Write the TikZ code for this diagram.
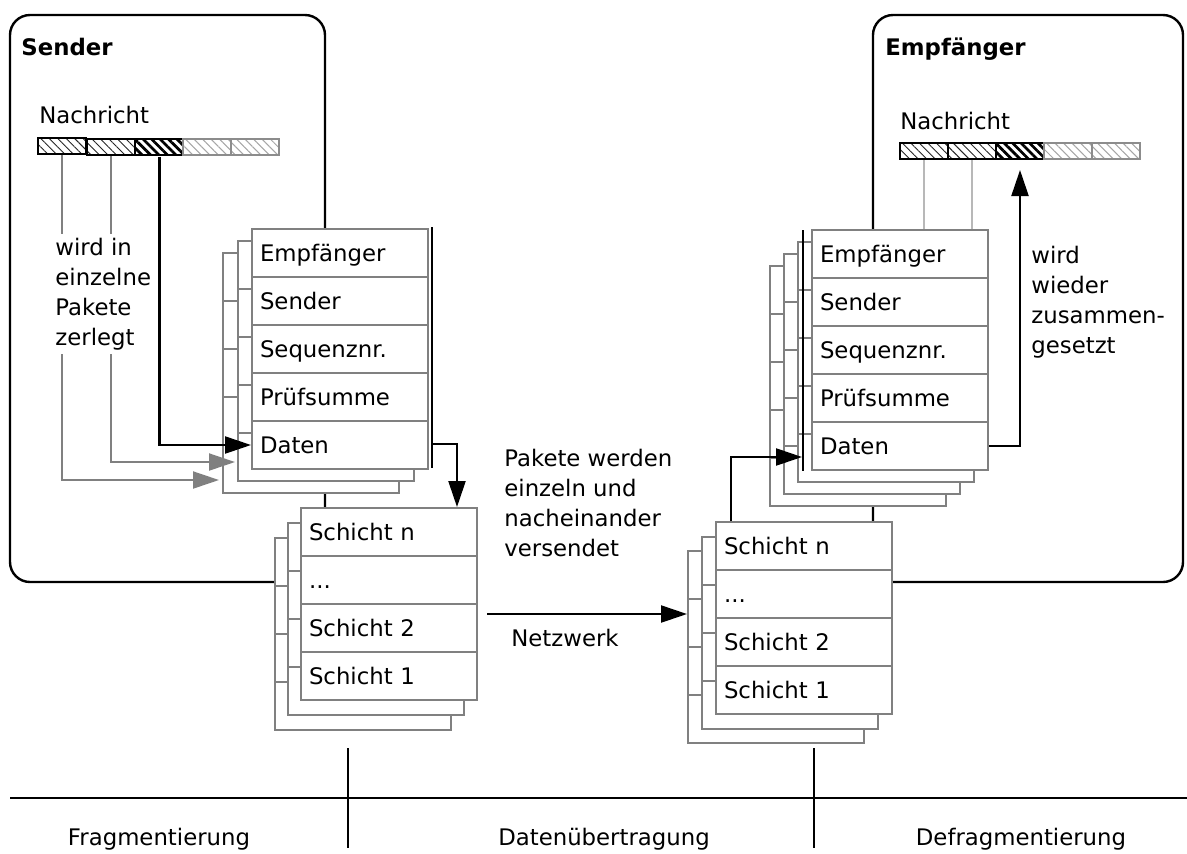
\documentclass[tikz,border=0pt]{standalone}
\usepackage{fontspec}
\setmainfont{DejaVu Sans}
\usetikzlibrary{arrows.meta,patterns.meta}
\definecolor{edge}{gray}{0.5}
\definecolor{pale}{gray}{0.72}
\newcommand{\layerdots}{...}

\tikzset{
  row/.style={draw=edge,fill=white,line width=1pt,anchor=north west,
    text width=80pt,inner xsep=4pt,inner ysep=0pt,minimum height=24pt,
    text height=9pt,text depth=0.5pt,align=left},
  cell/.style={line width=1pt,anchor=north west,inner sep=0pt,
    minimum width=24pt,minimum height=8pt},
  hatch/.style={pattern={Lines[angle=-45,distance=3pt,line width=#1]}},
  lite/.style={cell,draw=black,hatch=0.45pt,pattern color=black!85},
  dark/.style={cell,draw=black,hatch=1.4pt,pattern color=black},
  faint/.style={cell,draw=black!45,hatch=0.5pt,pattern color=black!35},
  note/.style={anchor=north west,inner sep=0pt,align=left},
  link/.style={line width=1.1pt},
  glink/.style={line width=1pt,color=edge},
}

\begin{document}
\begin{tikzpicture}[x=0.5pt,y=-0.5pt,>={Triangle[length=13pt,width=8.5pt]},
  every node/.style={font=\fontsize{11.4}{15}\selectfont}]
\useasboundingbox (0,0) rectangle (1187,853);

% frames
\draw[line width=1.2pt,rounded corners=10pt] (10,15) rectangle (325,582);
\draw[line width=1.2pt,rounded corners=10pt] (873,15) rectangle (1183,582);
\node[anchor=base west,inner sep=0pt,font=\fontsize{11.4}{15}\selectfont\bfseries] (snd) at (21,55) {Sender};
\node[anchor=base west,inner sep=0pt,font=\fontsize{11.4}{15}\selectfont\bfseries] (rcv) at (885,55) {Empfänger};

% messages
\node[anchor=base west,inner sep=0pt] (smsg) at (39,123) {Nachricht};
\node[anchor=base west,inner sep=0pt] (rmsg) at (900,129) {Nachricht};
\foreach \i/\c in {1/lite,2/lite,3/dark,4/faint,5/faint} {
  \node[\c] (s\i) at (38+48*\i-48,138) {};
  \node[\c] (r\i) at (899+48*\i-48,142) {};
}

% packets
\foreach \k in {2,1,0}
  \foreach \t [count=\r] in {Empfänger,Sender,Sequenznr.,Prüfsumme,Daten}
    \node[row] (sp\k-\r) at (251-14.5*\k,228+12*\k+48*\r-48) {\ifnum\k=0 \t\fi};
\foreach \k in {3,2,1,0}
  \foreach \t [count=\r] in {Empfänger,Sender,Sequenznr.,Prüfsumme,Daten}
    \node[row] (rp\k-\r) at (811-14*\k,229+12*\k+48*\r-48) {\ifnum\k=0 \t\fi};

% layers
\foreach \k in {2,1,0}
  \foreach \t [count=\r] in {Schicht n,\layerdots,Schicht 2,Schicht 1}
    \node[row] (sl\k-\r) at (300-13*\k,507+15*\k+48*\r-48) {\ifnum\k=0 \t\fi};
\foreach \k in {2,1,0}
  \foreach \t [count=\r] in {Schicht n,\layerdots,Schicht 2,Schicht 1}
    \node[row] (rl\k-\r) at (715-14*\k,521+14.5*\k+48*\r-48) {\ifnum\k=0 \t\fi};

% sender side
\coordinate (sin2) at (235,462);
\coordinate (sin3) at (219,480);
\draw[glink,->] (s2.south) |- (sin2);
\draw[glink,->] (s1.south) |- (sin3);
\draw[link,->] (s3.south) |- (sp0-5.west);
\node[note,fill=white,inner sep=2pt] (split) at (51,233.5) {wird in\\einzelne\\Pakete\\zerlegt};
\coordinate (sb1) at (432,227);
\coordinate (sb2) at (432,468);
\coordinate (sout) at (432,444);
\draw[link] (sb1) -- (sb2);
\draw[link,->] (sout) -| ([xshift=-10.5pt]sl0-1.north east);

% network
\node[note] (send) at (504,448.5) {Pakete werden\\einzeln und\\nacheinander\\versendet};
\coordinate (na) at (487,614);
\coordinate (nb) at (687,614);
\draw[link,->] (na) -- (nb);
\node[anchor=base,inner sep=0pt] (net) at (565,646) {Netzwerk};

% receiver side
\coordinate (rb1) at (803,230);
\coordinate (rb2) at (803,471);
\coordinate (rin) at (802,457);
\draw[link] (rb1) -- (rb2);
\draw[link,->] ([xshift=8pt]rl0-1.north west) |- (rin);
\draw[line width=1pt,pale] (r1.south) -- (r1.south |- rp0-1.north);
\draw[line width=1pt,pale] (r2.south) -- (r2.south |- rp0-1.north);
\draw[link,->,shorten >=5pt] (rp0-5.east) -| (r3.south);
\node[note] (join) at (1031,245.5) {wird\\wieder\\zusammen-\\gesetzt};

% phases
\draw[line width=1.2pt] (10,798) -- (1187,798);
\draw[line width=0.8pt] (348,748) -- (348,848);
\draw[line width=0.8pt] (814,748) -- (814,848);
\node[anchor=base,inner sep=0pt] (frag) at (159,845) {Fragmentierung};
\node[anchor=base,inner sep=0pt] (trans) at (604,845) {Datenübertragung};
\node[anchor=base,inner sep=0pt] (defrag) at (1021,845) {Defragmentierung};
\end{tikzpicture}
\end{document}
